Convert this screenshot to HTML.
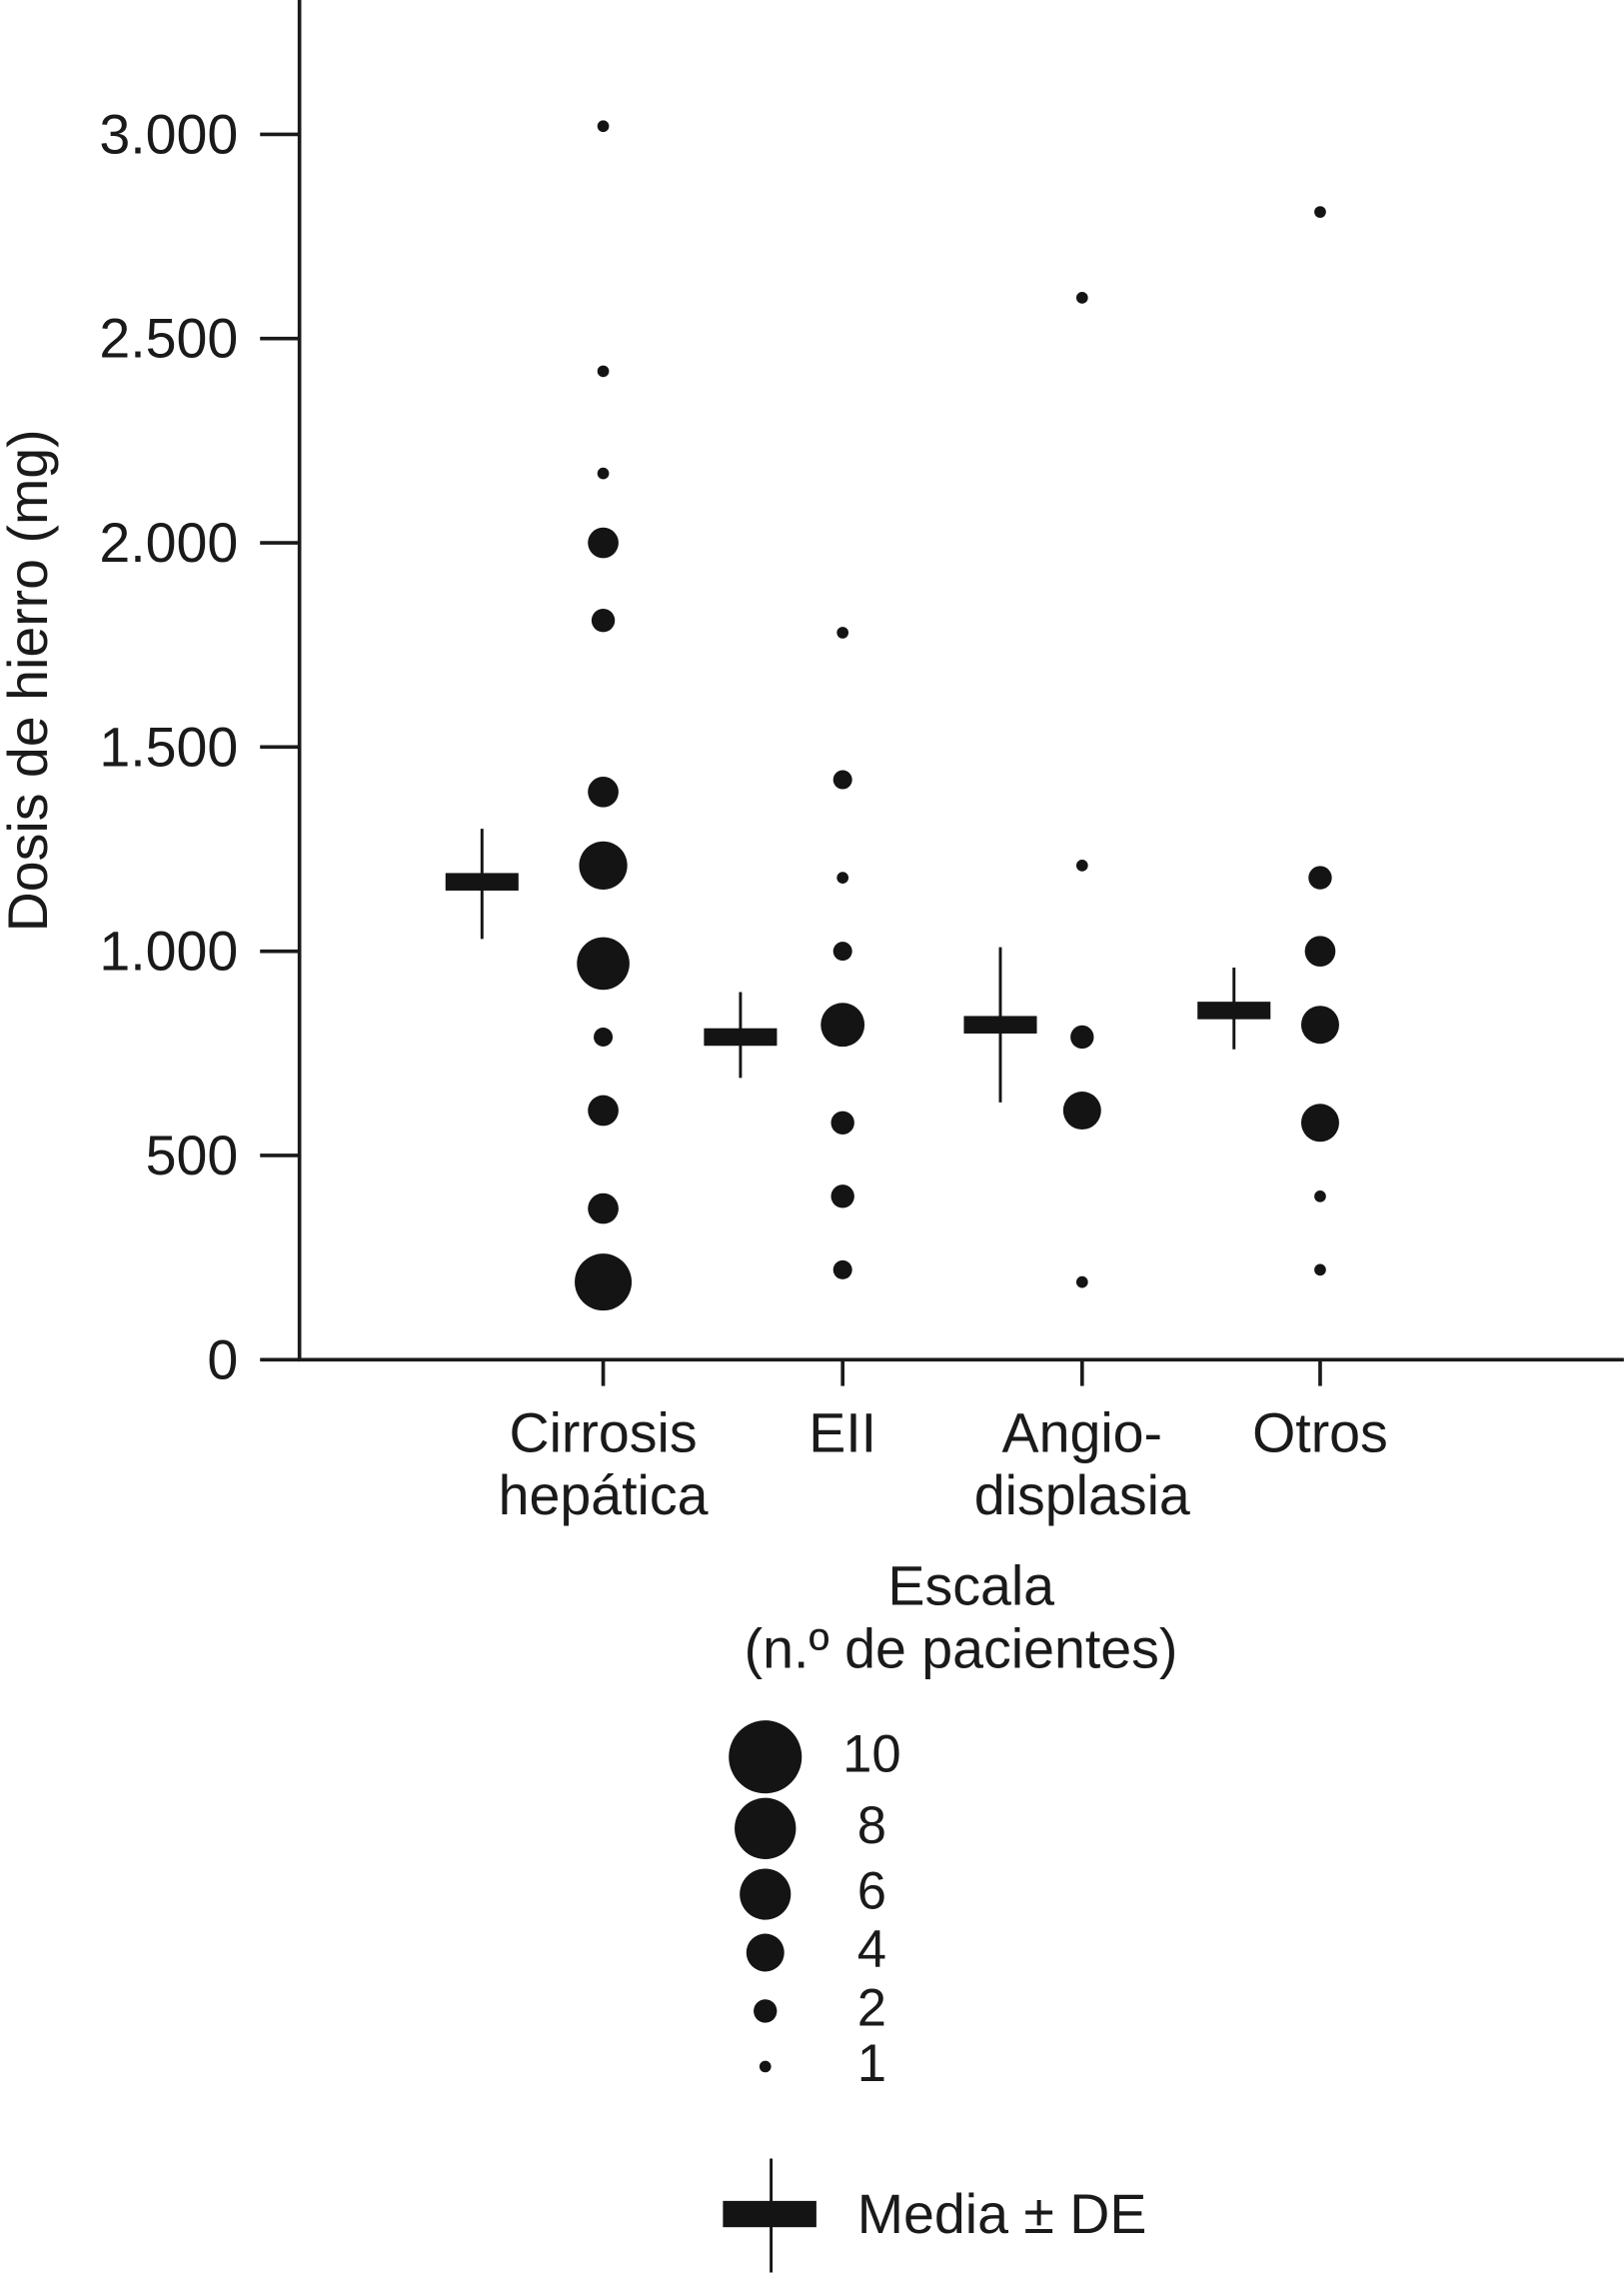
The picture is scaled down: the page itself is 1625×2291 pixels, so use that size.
<!DOCTYPE html>
<html><head><meta charset="utf-8"><style>
html,body{margin:0;padding:0;background:#fff}
svg{display:block}
text{font-family:"Liberation Sans",sans-serif;fill:#1a1a1a}
</style></head><body>
<svg id="chart" width="1625" height="2291" viewBox="0 0 1112 1568" xmlns="http://www.w3.org/2000/svg">
<g id="axes"></g>
<g id="marks"></g>
<text transform="translate(32,466) rotate(-90)" text-anchor="middle" font-size="38">Dosis de hierro (mg)</text>
<g id="legend">
<text x="665" y="1099" text-anchor="middle" font-size="38">Escala</text>
<text x="658" y="1142" text-anchor="middle" font-size="38">(n.º de pacientes)</text>
<text x="587" y="1529" font-size="38">Media ± DE</text>
</g>
</svg>
<script>
const categories=["Cirrosis|hepática","EII","Angio-|displasia","Otros"];
const yTicks=[0,500,1000,1500,2000,2500,3000];
const yTickLabels=["0","500","1.000","1.500","2.000","2.500","3.000"];
const cirrosisVals=[3020,2420,2170,2000,1810,1390,1210,970,790,610,370,190];
const cirrosisN=[1,1,1,4,3,4,7,8,2,4,4,9];
const eiiVals=[1780,1420,1180,1000,820,580,400,220];
const eiiN=[1,2,1,2,6,3,3,2];
const angioVals=[2600,1210,790,610,190];
const angioN=[1,1,3,5,1];
const otrosVals=[2810,1180,1000,820,580,400,220];
const otrosN=[1,3,4,5,5,1,1];
const means=[1170,790,820,855];
const sdLow=[1030,690,630,760];
const sdHigh=[1300,900,1010,960];
const legendCounts=[10,8,6,4,2,1];

const NS="http://www.w3.org/2000/svg";
const y0=931,yTop=92;
const yS=v=>y0-(v/3000)*(y0-yTop);
const catX=[413,577,741,904];
const meanX=[330,507,685,845];
const rS=n=>({1:4,2:6.5,3:8,4:10.5,5:13,6:15,7:16.5,8:18,9:19.5,10:21})[n]||4*Math.sqrt(n);
function el(t,a,p){const e=document.createElementNS(NS,t);for(const k in a)e.setAttribute(k,a[k]);p.appendChild(e);return e;}
const ax=document.getElementById('axes'),mk=document.getElementById('marks'),lg=document.getElementById('legend');
let e=el('line',{x1:205,y1:0,x2:205,y2:y0,stroke:'#1a1a1a','stroke-width':2.5},ax);


e=el('line',{x1:204,y1:y0,x2:1112,y2:y0,stroke:'#1a1a1a','stroke-width':2.5},ax);


yTicks.forEach((v,i)=>{
 const t=el('line',{x1:178,y1:yS(v),x2:205,y2:yS(v),stroke:'#1a1a1a','stroke-width':2.5},ax);
 
 
 const l=el('text',{x:163,y:yS(v)+13,'text-anchor':'end','font-size':38},ax);
 l.textContent=yTickLabels[i];
 
 
});
categories.forEach((c,i)=>{
 const t=el('line',{x1:catX[i],y1:y0,x2:catX[i],y2:y0+18,stroke:'#1a1a1a','stroke-width':2.5},ax);
 
 
 c.split('|').forEach((s,j)=>{
  const l=el('text',{x:catX[i],y:994+j*43,'text-anchor':'middle','font-size':38},ax);
  l.textContent=s;
  
  
 });
});
[[cirrosisVals,cirrosisN],[eiiVals,eiiN],[angioVals,angioN],[otrosVals,otrosN]].forEach((s,i)=>{
 s[0].forEach((v,j)=>{
  const c=el('circle',{cx:catX[i],cy:yS(v),r:rS(s[1][j]),fill:'#141414'},mk);
  
  
 });
 const sd=el('line',{x1:meanX[i],x2:meanX[i],y1:yS(sdHigh[i]),y2:yS(sdLow[i]),stroke:'#141414','stroke-width':2},mk);
 
 
 const m=el('rect',{x:meanX[i]-25,y:yS(means[i])-6,width:50,height:12,fill:'#141414'},mk);
 
 
});
const lgY=[1203,1252,1297,1337,1377,1415];
legendCounts.forEach((n,i)=>{
 const c=el('circle',{cx:524,cy:lgY[i],r:[25,21,17.5,13,8,4][i],fill:'#141414'},lg);
 
 
 const t=el('text',{x:597,y:lgY[i]+10,'text-anchor':'middle','font-size':36},lg);
 t.textContent=n;
 
 
});
e=el('line',{x1:528,x2:528,y1:1478,y2:1556,stroke:'#141414','stroke-width':2},lg);


e=el('rect',{x:495,y:1507,width:64,height:18,fill:'#141414'},lg);


</script>
</body></html>
